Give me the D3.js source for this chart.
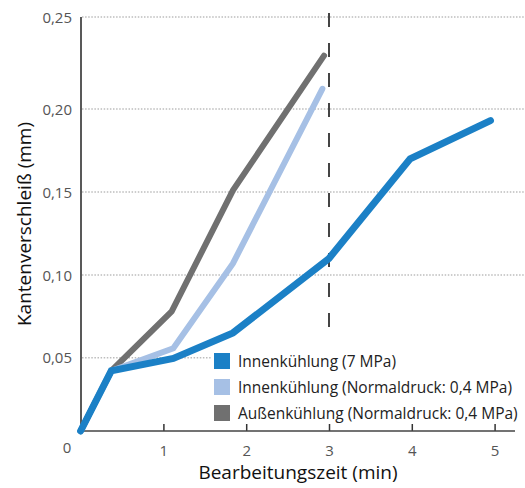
<!DOCTYPE html>
<html><head><meta charset="utf-8">
<script src="https://cdn.jsdelivr.net/npm/d3@7"></script>
<style>body{margin:0;background:#fff}svg{display:block}text{font-family:"Open Sans","Noto Sans",sans-serif}</style>
</head><body><svg id="c" width="525" height="488"></svg>
<script>
const seriesNames = ["Innenkühlung (7 MPa)", "Innenkühlung (Normaldruck: 0,4 MPa)", "Außenkühlung (Normaldruck: 0,4 MPa)"];
const seriesColors = ["#1b80c6", "#a6c0e5", "#707070"];
const timeBlue = [0, 0.37, 1.12, 1.84, 3.0, 3.98, 4.95];
const wearBlue = [0, 0.041, 0.0495, 0.065, 0.110, 0.170, 0.193];
const timeLight = [0, 0.37, 1.12, 1.84, 2.92];
const wearLight = [0, 0.041, 0.0557, 0.107, 0.211];
const timeGray = [0, 0.37, 1.1, 1.84, 2.94];
const wearGray = [0, 0.041, 0.078, 0.151, 0.229];
const xTicks = [1, 2, 3, 4, 5];
const yTicks = [0.05, 0.10, 0.15, 0.20, 0.25];
const yTickLabels = ["0,05", "0,10", "0,15", "0,20", "0,25"];
const markerTime = 3;

const svg = d3.select("#c");
const x = d3.scaleLinear().domain([0, 5]).range([80.6, 494.6]);
const y = d3.scaleLinear().domain([0, 0.05, 0.10, 0.15, 0.20, 0.25]).range([431, 357.7, 275, 192, 109, 17]);

// grid
svg.append("g").selectAll("line").data(yTicks).join("line")
  .attr("x1", 82).attr("x2", 525).attr("y1", d => y(d)).attr("y2", d => y(d))
  .attr("stroke", "#bdbdbd").attr("stroke-width", 1.5).attr("stroke-dasharray", "1.5,1.6");

// legend background (hides grid only)
svg.append("rect").attr("x", 211).attr("y", 350).attr("width", 314).attr("height", 76).attr("fill", "#fff");

// y tick labels
svg.append("g").selectAll("text").data(yTicks).join("text")
  .attr("x", 72).attr("y", d => y(d) + 5.5).attr("text-anchor", "end")
  .attr("font-size", 15).attr("fill", "#555").text((d, i) => yTickLabels[i]);

// x axis
const xAxis = d3.axisBottom(x).tickValues(xTicks).tickSize(-7).tickPadding(14).tickFormat(d3.format("d"));
const gx = svg.append("g").attr("transform", "translate(0,431)").call(xAxis);
gx.select(".domain").remove();
gx.selectAll(".tick line").attr("stroke", "#333").attr("stroke-width", 1.5);
gx.selectAll(".tick text").attr("font-size", 15).attr("fill", "#555").attr("font-family", "Open Sans, Noto Sans, sans-serif");
svg.append("line").attr("x1", 80.6).attr("x2", 515).attr("y1", 431).attr("y2", 431).attr("stroke", "#444").attr("stroke-width", 1.5);
svg.append("line").attr("x1", 81).attr("x2", 81).attr("y1", 17).attr("y2", 431).attr("stroke", "#222").attr("stroke-width", 1.5);
svg.append("text").attr("x", 67).attr("y", 453).attr("text-anchor", "middle").attr("font-size", 15).attr("fill", "#555").text("0");

// dashed marker
svg.append("line").attr("x1", x(markerTime)).attr("x2", x(markerTime)).attr("y1", 13).attr("y2", 330)
  .attr("stroke", "#444").attr("stroke-width", 2).attr("stroke-dasharray", "14,16");

// lines
const line = d3.line().x(d => x(d[0])).y(d => y(d[1]));
const sets = [
  {t: timeGray, w: wearGray, c: seriesColors[2], sw: 6},
  {t: timeLight, w: wearLight, c: seriesColors[1], sw: 6},
  {t: timeBlue, w: wearBlue, c: seriesColors[0], sw: 7}
];
sets.forEach(s => {
  svg.append("path").datum(s.t.map((t, i) => [t, s.w[i]])).attr("d", line)
    .attr("fill", "none").attr("stroke", s.c).attr("stroke-width", s.sw)
    .attr("stroke-linecap", "round").attr("stroke-linejoin", "miter");
});

// legend
const lg = svg.append("g").selectAll("g").data(seriesNames).join("g")
  .attr("transform", (d, i) => `translate(214,${353 + i * 26})`);
lg.append("rect").attr("width", 16).attr("height", 16).attr("fill", (d, i) => seriesColors[i]);
lg.append("text").attr("x", 24).attr("y", 14).attr("font-size", 15.5).attr("fill", "#222").text(d => d);

// axis titles
svg.append("text").attr("x", 298).attr("y", 479).attr("text-anchor", "middle").attr("font-size", 19).attr("fill", "#111").text("Bearbeitungszeit (min)");
svg.append("text").attr("transform", "translate(31,224) rotate(-90)").attr("text-anchor", "middle").attr("font-size", 19).attr("fill", "#111").text("Kantenverschleiß (mm)");
</script></body></html>
